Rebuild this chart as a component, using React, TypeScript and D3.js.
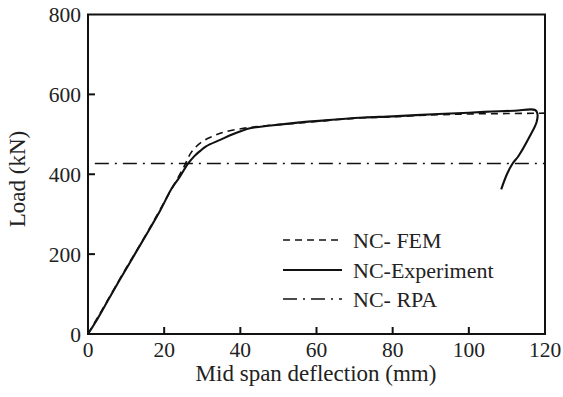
import React from "react";
import * as d3 from "d3";

const xTicks = [0, 20, 40, 60, 80, 100, 120];
const yTicks = [0, 200, 400, 600, 800];

const expX = [0, 2, 5, 8, 12.3, 16, 19, 22, 24, 26.3, 28, 29.4, 31, 34.7, 38, 42.5, 48, 55.7, 65, 72.3, 80, 92, 100, 106, 112, 117.4, 118, 117.8, 116, 113, 111.5, 110, 108.5];
const expY = [0, 30, 80, 130, 200, 260, 310, 365, 392, 427, 446, 458, 470, 486, 500, 515, 522, 530, 537, 542, 545, 551, 554, 557, 559, 561, 552, 531, 495, 445, 427, 400, 362];

const femX = [0, 5, 10, 15, 20, 25, 27.2, 29.9, 33, 36, 40.8, 45, 55, 70, 80, 92, 100, 110, 120];
const femY = [0, 82, 165, 245, 330, 415, 456, 481, 496, 506, 515, 520, 528, 540, 544, 549, 551, 552, 553];

const rpaLoad = 427;

const legendLabels = ["NC- FEM", "NC-Experiment", "NC- RPA"];

const W = 563, H = 397;
const FONT = "Liberation Serif";
const RPA_DASH = "14,6,2,6";
const FEM_DASH = "7,5";

export default function App() {
  const x = d3.scaleLinear().domain([0, 120]).range([88, 545]);
  const y = d3.scaleLinear().domain([0, 800]).range([334, 14.5]);
  const line = d3.line<[number, number]>().x(d => x(d[0])).y(d => y(d[1])).curve(d3.curveCatmullRom.alpha(0.5));
  const expPts: [number, number][] = expX.map((v, i) => [v, expY[i]]);
  const femPts: [number, number][] = femX.map((v, i) => [v, femY[i]]);

  const legendRows = [
    { label: legendLabels[0], dash: FEM_DASH, w: 1.6 },
    { label: legendLabels[1], dash: "none", w: 2 },
    { label: legendLabels[2], dash: RPA_DASH, w: 1.6 },
  ];
  const legY = [240, 270, 299];
  const ts = { fontFamily: FONT };

  return (
    <svg width={W} height={H} style={{ position: "absolute", left: 0, top: 0, background: "#fff" }}>
      <line x1={x(1.8)} x2={x(120)} y1={y(rpaLoad)} y2={y(rpaLoad)} stroke="#111" strokeWidth={1.6} strokeDasharray={RPA_DASH} />
      <path d={line(femPts) || ""} fill="none" stroke="#111" strokeWidth={1.6} strokeDasharray={FEM_DASH} />
      <path d={line(expPts) || ""} fill="none" stroke="#111" strokeWidth={2.1} strokeLinejoin="round" />

      <rect x={x(0)} y={y(800)} width={x(120) - x(0)} height={y(0) - y(800)} fill="none" stroke="#111" strokeWidth={2} />
      {xTicks.map(t => (
        <g key={"x" + t}>
          {t > 0 && t < 120 && <line x1={x(t)} x2={x(t)} y1={y(0)} y2={y(0) - 7} stroke="#111" strokeWidth={2} />}
          <text x={x(t)} y={357} textAnchor="middle" fontSize={21.5} fill="#222" style={ts}>{t}</text>
        </g>
      ))}
      {yTicks.map(t => (
        <g key={"y" + t}>
          {t > 0 && t < 800 && <line x1={x(0)} x2={x(0) + 7} y1={y(t)} y2={y(t)} stroke="#111" strokeWidth={2} />}
          <text x={81} y={y(t)} dy="0.35em" textAnchor="end" fontSize={21.5} fill="#222" style={ts}>{t}</text>
        </g>
      ))}
      <text x={316} y={381} textAnchor="middle" fontSize={23} fill="#222" style={ts}>Mid span deflection (mm)</text>
      <text transform={`translate(25,179) rotate(-90)`} textAnchor="middle" fontSize={23} fill="#222" style={ts}>Load (kN)</text>

      {legendRows.map((r, i) => (
        <g key={r.label}>
          <line x1={283} x2={342} y1={legY[i]} y2={legY[i]} stroke="#111" strokeWidth={r.w} strokeDasharray={r.dash} />
          <text x={353} y={legY[i]} dy="0.35em" fontSize={22} fill="#222" style={ts}>{r.label}</text>
        </g>
      ))}
    </svg>
  );
}
